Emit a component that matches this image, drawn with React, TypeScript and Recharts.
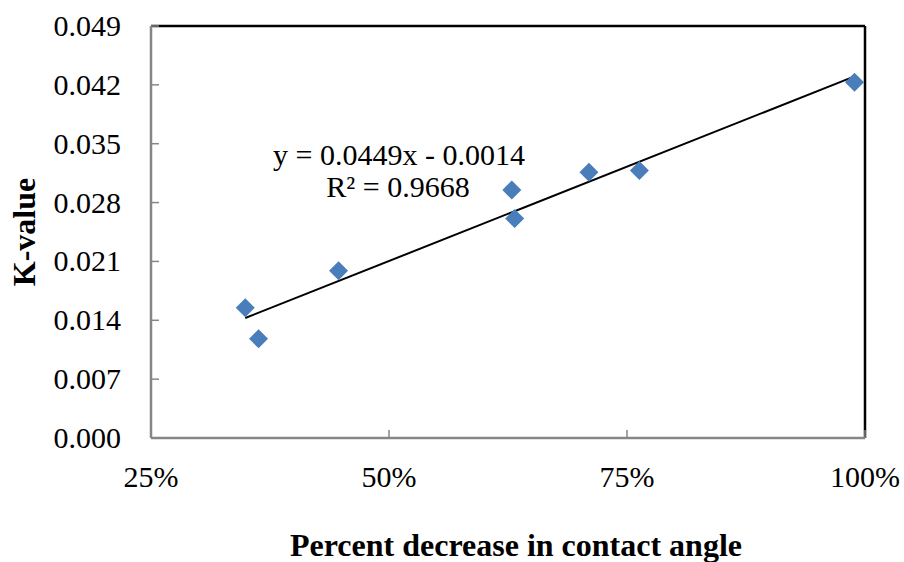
import React from "react";
import { ScatterChart, Scatter, XAxis, YAxis, ReferenceLine } from "recharts";

const percentDecrease = [0.349, 0.363, 0.447, 0.629, 0.632, 0.71, 0.763, 0.989];
const kValues = [0.0155, 0.0118, 0.0199, 0.0295, 0.0261, 0.0316, 0.0318, 0.0423];
const xTicks = [0.25, 0.5, 0.75, 1.0];
const yTicks = [0, 0.007, 0.014, 0.021, 0.028, 0.035, 0.042, 0.049];
const slope = 0.0449;
const intercept = -0.0014;
const trendX = [0.349, 0.989];
const equationText = "y = 0.0449x - 0.0014";
const r2Text = "R² = 0.9668";

const points = percentDecrease.map((x, i) => ({ x, y: kValues[i] }));
const trend = trendX.map((x) => ({ x, y: slope * x + intercept }));

const FONT = "'Liberation Serif', 'Times New Roman', serif";
const AXIS_GRAY = "#868686";

const Diamond = (props: any) => {
  const { cx, cy } = props;
  const h = 9.5;
  return (
    <polygon
      points={`${cx},${cy - h} ${cx + h},${cy} ${cx},${cy + h} ${cx - h},${cy}`}
      fill="#4A7EBB"
    />
  );
};

const YTick = (props: any) => {
  const { x, y, payload } = props;
  return (
    <g>
      <line x1={x} y1={y} x2={x + 8} y2={y} stroke={AXIS_GRAY} strokeWidth={1.5} />
      <text x={x - 30} y={y} dy={10} textAnchor="end" style={{ fontFamily: FONT }} fontSize={30} fill="#000">
        {payload.value.toFixed(3)}
      </text>
    </g>
  );
};

const XTick = (props: any) => {
  const { x, y, payload } = props;
  return (
    <g>
      <line x1={x} y1={y} x2={x} y2={y - 8} stroke={AXIS_GRAY} strokeWidth={1.5} />
      <text x={x} y={y + 49} textAnchor="middle" style={{ fontFamily: FONT }} fontSize={30} fill="#000">
        {`${Math.round(payload.value * 100)}%`}
      </text>
    </g>
  );
};

export default function App() {
  return (
    <div style={{ position: "absolute", left: 0, top: 0, width: 904, height: 562, background: "#fff" }}>
      <ScatterChart width={904} height={562} margin={{ top: 26, right: 39, left: 0, bottom: 0 }}>
        <XAxis
          type="number"
          dataKey="x"
          domain={[0.25, 1.0]}
          ticks={xTicks}
          height={124}
          tickSize={0}
          tickMargin={0}
          tickLine={false}
          axisLine={{ stroke: AXIS_GRAY, strokeWidth: 2.5 }}
          tick={<XTick />}
          interval={0}
          allowDataOverflow
          label={{
            content: () => (
              <text
                x={516}
                y={556}
                textAnchor="middle"
                style={{ fontFamily: FONT }}
                fontSize={32}
                fontWeight="bold"
                fill="#000"
              >
                Percent decrease in contact angle
              </text>
            ),
          }}
        />
        <YAxis
          type="number"
          dataKey="y"
          domain={[0, 0.049]}
          ticks={yTicks}
          width={151}
          tickSize={0}
          tickMargin={0}
          tickLine={false}
          axisLine={{ stroke: AXIS_GRAY, strokeWidth: 2.5 }}
          tick={<YTick />}
          interval={0}
          allowDataOverflow
          label={{
            content: () => (
              <text
                x={35}
                y={232}
                transform="rotate(-90, 35, 232)"
                textAnchor="middle"
                style={{ fontFamily: FONT }}
                fontSize={32}
                fontWeight="bold"
                fill="#000"
              >
                K-value
              </text>
            ),
          }}
        />
        <ReferenceLine y={0.049} stroke="#000" strokeWidth={2.5} />
        <ReferenceLine x={1.0} stroke="#000" strokeWidth={2.5} />
        <Scatter
          data={trend}
          line={{ stroke: "#000", strokeWidth: 2 }}
          shape={() => null}
          isAnimationActive={false}
        />
        <Scatter data={points} shape={<Diamond />} isAnimationActive={false} />
      </ScatterChart>
      <svg
        width={904}
        height={562}
        style={{ position: "absolute", left: 0, top: 0, pointerEvents: "none" }}
      >
        <text x={399} y={165} textAnchor="middle" style={{ fontFamily: FONT }} fontSize={30} fill="#000">
          {equationText}
        </text>
        <text x={398} y={197} textAnchor="middle" style={{ fontFamily: FONT }} fontSize={30} fill="#000">
          {r2Text}
        </text>
      </svg>
    </div>
  );
}
